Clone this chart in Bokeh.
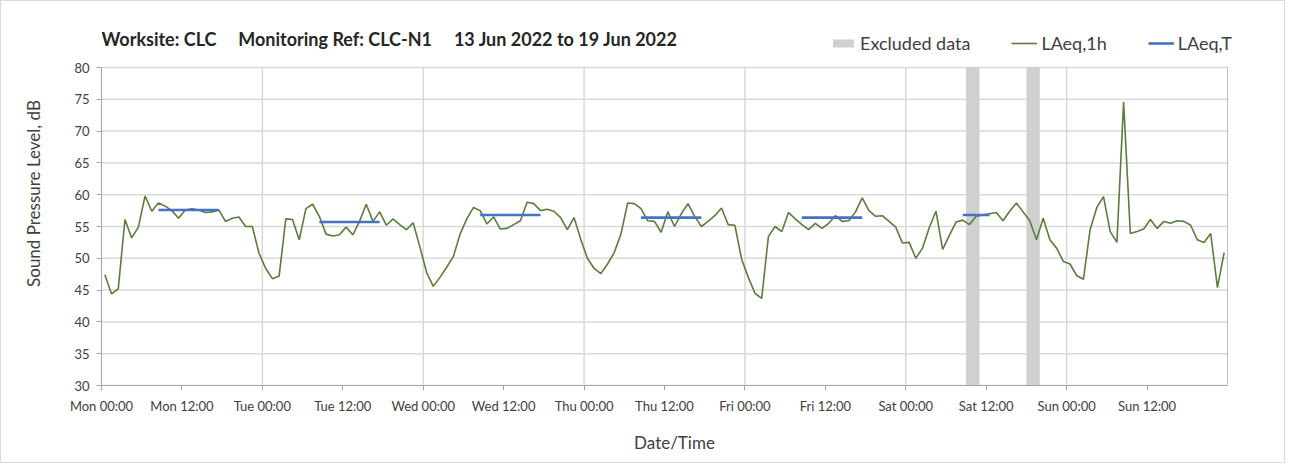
import numpy as np
from bokeh.plotting import figure
from bokeh.models import Range1d, FixedTicker, Legend, LegendItem, Label
from bokeh.embed import file_html
from bokeh.resources import INLINE

# ---------------- data ----------------
GAP = "\u00a0" * 5
title_text = ("Worksite: CLC" + GAP + "Monitoring Ref: CLC-N1" + GAP +
              "13 Jun 2022 to 19 Jun 2022")

# hourly LAeq,1h values, Mon 00:00 .. Sun 23:00 (168 hours)
laeq_1h = [
    47.4, 44.4, 45.2, 56.1, 53.2, 54.9, 59.8, 57.4, 58.7, 58.2, 57.5, 56.3,
    57.6, 57.8, 57.6, 57.2, 57.3, 57.6, 55.8, 56.3, 56.5, 55.0, 55.0, 50.8,
    48.4, 46.8, 47.2, 56.2, 56.1, 52.9, 57.8, 58.5, 56.6, 53.8, 53.5, 53.7,
    54.9, 53.7, 55.8, 58.5, 55.8, 57.3, 55.2, 56.2, 55.3, 54.5, 55.6, 51.8,
    47.8, 45.6, 47.0, 48.6, 50.3, 53.8, 56.2, 58.0, 57.5, 55.4, 56.5, 54.6,
    54.7, 55.3, 55.9, 58.8, 58.6, 57.5, 57.7, 57.4, 56.4, 54.5, 56.4, 53.0,
    50.0, 48.4, 47.6, 49.1, 50.9, 53.8, 58.7, 58.6, 57.8, 55.9, 55.8, 54.1,
    57.3, 55.0, 57.0, 58.6, 56.6, 55.0, 55.8, 56.7, 57.9, 55.3, 55.2, 49.9,
    47.0, 44.5, 43.7, 53.4, 55.0, 54.2, 57.2, 56.2, 55.3, 54.5, 55.5, 54.7,
    55.5, 56.7, 55.8, 55.9, 57.3, 59.5, 57.5, 56.6, 56.7, 55.8, 54.9, 52.4,
    52.5, 50.0, 51.6, 54.8, 57.4, 51.4, 53.6, 55.7, 56.0, 55.3, 56.6, 56.8,
    57.0, 57.2, 55.9, 57.4, 58.7, 57.3, 55.9, 52.9, 56.3, 52.9, 51.6, 49.5,
    49.1, 47.3, 46.7, 54.5, 58.0, 59.7, 54.2, 52.5, 74.6, 53.9, 54.2, 54.6,
    56.1, 54.7, 55.8, 55.5, 55.9, 55.8, 55.2, 52.9, 52.5, 53.9, 45.4, 50.9,
]

# excluded data periods (start hour, duration in hours)
excluded_start = [129, 138]
excluded_hours = [2, 2]

# LAeq,T periods (first and last hour of period) and levels
period_first = [8, 32, 56, 80, 104, 128]
period_last = [17, 41, 65, 89, 113, 132]
laeq_T = [57.6, 55.7, 56.8, 56.4, 56.4, 56.8]

tick_hours = list(range(0, 168, 12))
tick_labels = ["Mon 00:00", "Mon 12:00", "Tue 00:00", "Tue 12:00",
               "Wed 00:00", "Wed 12:00", "Thu 00:00", "Thu 12:00",
               "Fri 00:00", "Fri 12:00", "Sat 00:00", "Sat 12:00",
               "Sun 00:00", "Sun 12:00"]
y_ticks = list(range(30, 81, 5))

# ---------------- layout constants ----------------
FONT = "Lato"
TXT = "#404040"
GRID = "#d9d9d9"
y_min, y_max = 30, 80
n_hours = len(laeq_1h)
day_hours = list(range(24, n_hours, 24))

W, H = 1285, 463
border_left, border_right, border_bottom = 100, 39, 79
plot_px = 318                 # height of the plotting area (30..80 dB)
plot_w_px = 1126              # width of the plotting area (one week)
header_px = H - border_bottom - plot_px     # title / legend strip
extra_px = W - border_left - border_right - plot_w_px   # room for legend text
y_top = y_max + (y_max - y_min) * header_px / plot_px
x_end = n_hours + n_hours * extra_px / plot_w_px

p = figure(width=W, height=H, title=None,
           x_range=Range1d(0, x_end), y_range=Range1d(y_min, y_top),
           output_backend="svg", toolbar_location=None,
           min_border_left=border_left, min_border_right=border_right,
           min_border_top=0, min_border_bottom=border_bottom)
p.styles = {"border": "1px solid #d9d9d9"}
p.outline_line_color = None
p.background_fill_color = "white"
p.border_fill_color = "white"

# grid lines limited to the plotting area
p.xgrid.visible = False
p.ygrid.visible = False
hg = p.segment(x0=0, y0=y_ticks, x1=n_hours, y1=y_ticks,
               line_color=GRID, line_width=1.5)
vg = p.segment(x0=day_hours, y0=y_min, x1=day_hours, y1=y_max,
               line_color=GRID, line_width=1.5)
hg.level = "underlay"
vg.level = "underlay"
edge = p.segment(x0=[n_hours], y0=y_min, x1=[n_hours], y1=y_max,
                 line_color="#bfbfbf", line_width=1)

# axes
p.xaxis.ticker = FixedTicker(ticks=tick_hours)
p.xaxis.major_label_overrides = {h: s for h, s in zip(tick_hours, tick_labels)}
p.xaxis.bounds = (0, n_hours)
p.yaxis.ticker = FixedTicker(ticks=y_ticks)
p.yaxis.bounds = (y_min, y_max)
for ax in (p.xaxis, p.yaxis):
    ax.axis_line_color = "#a6a6a6"
    ax.axis_line_width = 1
    ax.major_tick_line_color = "#a6a6a6"
    ax.major_tick_in = 0
    ax.major_tick_out = 5
    ax.minor_tick_line_color = None
    ax.major_label_text_font = FONT
    ax.major_label_text_font_size = "13px"
    ax.major_label_text_color = TXT
    ax.axis_label_text_font = FONT
    ax.axis_label_text_font_style = "normal"
    ax.axis_label_text_font_size = "17px"
    ax.axis_label_text_color = TXT
p.xaxis.axis_label = "Date/Time"
p.yaxis.axis_label = "Sound Pressure Level, dB"
p.xaxis.major_label_standoff = 7
p.yaxis.major_label_standoff = 7
p.xaxis.axis_label_standoff = 15
p.yaxis.axis_label_standoff = 27

# excluded bands
ex_left = excluded_start
ex_right = [s + d for s, d in zip(excluded_start, excluded_hours)]
r_ex = p.quad(left=ex_left, right=ex_right, bottom=y_min, top=y_max,
              fill_color="#d0d0d0", line_color=None)

# hourly line (points at the centre of each hour)
x_hours = np.arange(n_hours) + 0.5
r_1h = p.line(x_hours, laeq_1h, line_color="#5a7d3c", line_width=1.6)

# LAeq,T segments
seg_x0 = [a + 0.5 for a in period_first]
seg_x1 = [b + 0.5 for b in period_last]
r_T = p.segment(x0=seg_x0, y0=laeq_T, x1=seg_x1, y1=laeq_T,
                line_color="#4472c4", line_width=2.6)

# legend in the header strip
legend = Legend(
    items=[LegendItem(label="Excluded data", renderers=[r_ex]),
           LegendItem(label="LAeq,1h", renderers=[r_1h]),
           LegendItem(label="LAeq,T", renderers=[r_T])],
    orientation="horizontal", location=(729, 331),
    padding=0, margin=0, spacing=41,
    glyph_width=26, glyph_height=10, label_height=20,
    label_standoff=4,
    label_text_font=FONT, label_text_font_size="18px",
    label_text_color=TXT,
    border_line_color=None, background_fill_alpha=0)
p.add_layout(legend, "center")

# chart title
p.add_layout(Label(x=0, y=347, x_units="screen", y_units="screen",
                   text=title_text, text_font=FONT,
                   text_font_style="bold", text_font_size="18px",
                   text_color="#262626", text_baseline="middle"))

open("out.html", "w").write(file_html(p, INLINE))
